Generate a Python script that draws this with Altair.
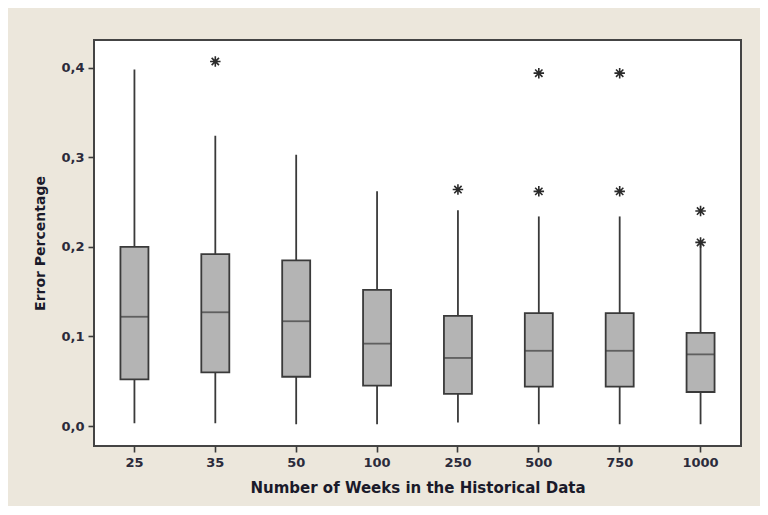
import altair as alt
import pandas as pd

weeks = ["25", "35", "50", "100", "250", "500", "750", "1000"]
whisker_low = [0.003, 0.003, 0.002, 0.002, 0.004, 0.002, 0.002, 0.002]
q1 = [0.052, 0.060, 0.055, 0.045, 0.036, 0.044, 0.044, 0.038]
median = [0.122, 0.127, 0.117, 0.092, 0.076, 0.084, 0.084, 0.080]
q3 = [0.200, 0.192, 0.185, 0.152, 0.123, 0.126, 0.126, 0.104]
whisker_high = [0.398, 0.324, 0.303, 0.262, 0.241, 0.234, 0.234, 0.203]

outlier_weeks = ["35", "250", "500", "500", "750", "750", "1000", "1000"]
outlier_values = [0.407, 0.264, 0.394, 0.262, 0.394, 0.262, 0.240, 0.205]

boxes = pd.DataFrame({
    "weeks": weeks, "low": whisker_low, "q1": q1, "median": median,
    "q3": q3, "high": whisker_high,
})
outliers = pd.DataFrame({"weeks": outlier_weeks, "value": outlier_values})

dark = "#3a3a3a"
font = "DejaVu Sans"

x_enc = alt.X(
    "weeks:N", sort=weeks,
    scale=alt.Scale(paddingInner=0, paddingOuter=0),
    axis=alt.Axis(
        title="Number of Weeks in the Historical Data",
        labelAngle=0, labelFont=font, labelFontSize=13, labelFontWeight="bold",
        labelColor="#2b2b3b", labelPadding=4,
        tickSize=6, tickColor=dark, tickWidth=1.6, domain=False,
        titleFont=font, titleFontSize=15, titleFontWeight="bold", titleColor="#1a1a2a",
        titleY=41, titleBaseline="middle",
    ),
)
y_scale = alt.Scale(domain=[-0.0223, 0.431], nice=False, zero=False)
y_axis = alt.Axis(
    title="Error Percentage", values=[0.0, 0.1, 0.2, 0.3, 0.4],
    labelExpr="replace(format(datum.value, '.1f'), '.', ',')",
    labelFont=font, labelFontSize=13, labelFontWeight="bold", labelColor="#2b2b3b",
    labelPadding=4, tickSize=6, tickColor=dark, tickWidth=1.6, domain=False, grid=False,
    titleFont=font, titleFontSize=14, titleFontWeight="bold", titleColor="#1a1a2a",
    titleX=-54, titleAngle=270, titleAlign="center", titleBaseline="middle",
)

whisk = alt.Chart(boxes).mark_rule(color=dark, strokeWidth=1.8).encode(
    x=x_enc,
    y=alt.Y("low:Q", scale=y_scale, axis=y_axis),
    y2="high:Q",
)
box = alt.Chart(boxes).mark_bar(
    size=28, fill="#b4b4b4", stroke=dark, strokeWidth=1.8
).encode(
    x=alt.X("weeks:N", sort=weeks),
    y=alt.Y("q1:Q"),
    y2="q3:Q",
)
med = alt.Chart(boxes).mark_tick(size=28, thickness=1.8, color=dark).encode(
    x=alt.X("weeks:N", sort=weeks),
    y=alt.Y("median:Q"),
)
asterisk = "M-1,0L1,0M0,-1L0,1M-0.7,-0.7L0.7,0.7M-0.7,0.7L0.7,-0.7"
outs = alt.Chart(outliers).mark_point(
    shape=asterisk, filled=False, stroke="#2a2a2a", strokeWidth=1.6, size=110, opacity=1
).encode(
    x=alt.X("weeks:N", sort=weeks),
    y=alt.Y("value:Q"),
)

chart = alt.layer(whisk, box, med, outs).properties(
    width=647, height=406,
    background="#ece7dc",
    padding={"left": 86, "top": 32, "right": 19, "bottom": 60},
    autosize=alt.AutoSizeParams(type="none"),
).configure_view(
    fill="white", stroke="#444444", strokeWidth=2
)

chart.save("out.html", embed_options={"renderer": "svg", "actions": False})
